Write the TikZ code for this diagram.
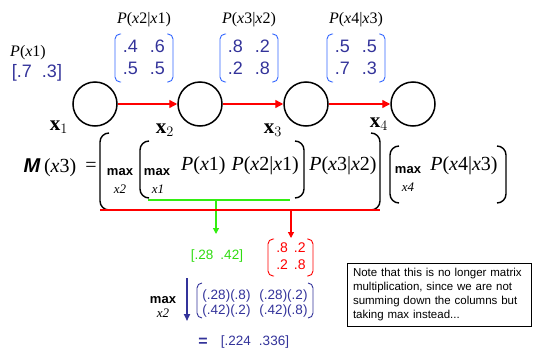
\documentclass[tikz,border=0pt]{standalone}
\usepackage{fontspec}
\setmainfont{Liberation Serif}
\setsansfont{Liberation Sans}
\usetikzlibrary{arrows.meta,calc,positioning}
\definecolor{NumPurple}{HTML}{33339A}
\definecolor{ParenBlue}{HTML}{3366FF}
\definecolor{EdgeRed}{HTML}{FF0000}
\definecolor{MsgGreen}{HTML}{33EE11}
\newcommand\prob[1]{\textit{P}(\textit{x}#1)}
\newcommand\cprob[2]{\textit{P}(\textit{x}#1|\textit{x}#2)}
% bracket pair: style, left x, right x, top y, bottom y, hook
\newcommand\parens[6]{%
  \draw[#1] ($(#2,#4)+(#6,0)$) -- (#2,#4) -- (#2,#5) -- ($(#2,#5)+(#6,0)$);
  \draw[#1] ($(#3,#4)-(#6,0)$) -- (#3,#4) -- (#3,#5) -- ($(#3,#5)-(#6,0)$);}
\tikzset{
  var/.style={circle,draw=black,line width=1.5pt,minimum size=44pt,inner sep=0pt},
  varlabel/.style={font=\fontsize{21}{21}\selectfont,inner sep=0pt},
  edge/.style={-{Triangle[length=8pt,width=8pt]},draw=EdgeRed,line width=1.4pt},
  cpt/.style={font=\fontsize{16}{16}\selectfont,inner sep=0pt},
  topvec/.style={font=\sffamily\fontsize{18}{22}\selectfont,text=NumPurple,inner sep=0pt},
  blueparen/.style={draw=ParenBlue,line width=.9pt,rounded corners=5pt},
  bigparen/.style={draw=black,line width=1.4pt,rounded corners=9pt},
  redparen/.style={draw=EdgeRed,line width=.9pt,rounded corners=5pt},
  purpleparen/.style={draw=NumPurple,line width=.9pt,rounded corners=5pt},
  eq/.style={font=\fontsize{20}{20}\selectfont,inner sep=0pt},
  maxop/.style={font=\sffamily\bfseries\fontsize{13}{13}\selectfont,inner sep=0pt},
  idx/.style={font=\itshape\fontsize{13}{13}\selectfont,inner sep=0pt},
  msg/.style={draw=MsgGreen,line width=1.4pt},
  msgarrow/.style={-{Triangle[length=6pt,width=6pt]},draw=MsgGreen,line width=1.2pt},
  redmsg/.style={draw=EdgeRed,line width=1.4pt},
  redarrow/.style={-{Triangle[length=6pt,width=6pt]},draw=EdgeRed,line width=1.2pt},
  numvec/.style={font=\sffamily\fontsize{13.5}{14.5}\selectfont,inner sep=0pt},
  downarrow/.style={-{Triangle[length=7pt,width=6pt]},draw=NumPurple,line width=1.6pt},
  note/.style={draw=black,line width=.7pt,font=\sffamily\fontsize{11.5}{14}\selectfont,
    align=left,minimum width=184pt,minimum height=63pt,text width=172pt,inner sep=5pt}
}
\begin{document}
\begin{tikzpicture}[x=1pt,y=-1pt]
  \useasboundingbox (0,0) rectangle (535,351);
  % chain x1 -> x4
  \foreach \i/\x in {1/95,2/200,3/306,4/413}{
    \node[var] (v\i) at (\x,104) {};
  }
  \foreach \i/\j in {1/2,2/3,3/4}{
    \draw[edge] (v\i) -- (v\j);
  }
  \foreach \i/\x/\y in {1/59/127,2/165/130,3/273/130,4/379/124}{
    \node[varlabel] (l\i) at (\x,\y) {$\mathbf{x}_\i$};
  }
  % prior and tables
  \node[cpt] (p1) at (28,53) {\prob{1}};
  \node[topvec] (pv) at (37,73) {[.7\hspace{10pt}.3]};
  \foreach \n/\x/\c/\p/\a/\b/\cc/\d in {t2/144/2/1/.4/.6/.5/.5,t3/249/3/2/.8/.2/.2/.8,t4/356/4/3/.5/.5/.7/.3}{
    \node[cpt] (h\n) at (\x,20) {\cprob{\c}{\p}};
    \node[topvec] (\n) at (\x,59)
      {\begin{tabular}{@{}c@{\hspace{12pt}}c@{}}\a&\b\\\cc&\d\end{tabular}};
    \parens{blueparen}{\x-29}{\x+29}{34}{82}{6}
  }
  % message equation
  \node[eq] (m3) at (50,168) {\textsf{\bfseries\itshape M}\,(\textit{x}3)};
  \node[eq] (eqs) at (91,167) {=};
  \parens{bigparen}{100}{380}{133}{210}{9}
  \node[maxop] (mx2) at (120,172) {max};
  \node[idx] (i2) at (120,189) {x2};
  \parens{bigparen}{140}{304}{141}{198}{9}
  \node[maxop] (mx1) at (157,172) {max};
  \node[idx] (i1) at (158,189) {x1};
  \node[eq] (f12) at (240,166) {\prob{1}\hspace{6pt}\cprob{2}{1}};
  \node[eq] (f23) at (343,166) {\cprob{3}{2}};
  \parens{bigparen}{390}{506}{146}{203}{9}
  \node[maxop] (mx4) at (408,170) {max};
  \node[idx] (i4) at (408,187) {x4};
  \node[eq] (f34) at (464,166) {\cprob{4}{3}};
  % green message
  \coordinate (g0) at (148,200);
  \coordinate (g1) at (290,200);
  \coordinate (gm) at (216,200);
  \coordinate (gt) at (216,234);
  \draw[msg] (g0) -- (g1);
  \draw[msgarrow] (gm) -- (gt);
  \node[numvec,text=MsgGreen!92!black] (gv) at (217,256) {[.28\hspace{7pt}.42]};
  % red table
  \coordinate (r0) at (100,210);
  \coordinate (r1) at (380,210);
  \coordinate (rm) at (291,210);
  \coordinate (rt) at (291,238);
  \draw[redmsg] (r0) -- (r1);
  \draw[redarrow] (rm) -- (rt);
  \node[numvec,text=EdgeRed,font=\sffamily\fontsize{14}{17}\selectfont] (rmat) at (291,258)
    {\begin{tabular}{@{}c@{\hspace{6pt}}c@{}}.8&.2\\.2&.8\end{tabular}};
  \parens{redparen}{268}{313}{239}{276}{6}
  % max over x2
  \node[maxop] (mx2b) at (163,300) {max};
  \node[idx] (i2b) at (163,313) {x2};
  \coordinate (ba0) at (187,278);
  \coordinate (ba1) at (187,321);
  \draw[downarrow] (ba0) -- (ba1);
  \node[numvec,text=NumPurple] (pm) at (255,304)
    {\begin{tabular}{@{}c@{\hspace{9pt}}c@{}}(.28)(.8)&(.28)(.2)\\(.42)(.2)&(.42)(.8)\end{tabular}};
  \parens{purpleparen}{197}{313}{283}{318}{5}
  \node[numvec,text=NumPurple,font=\sffamily\bfseries\fontsize{16}{16}\selectfont] (eq2) at (203,342) {=};
  \node[numvec,text=NumPurple] (res) at (255,342) {[.224\hspace{8pt}.336]};
  % note
  \node[note] (nt) at (439,294.5) {Note that this is no longer matrix\\multiplication, since we are not\\summing down the columns but\\taking max instead...};
\end{tikzpicture}
\end{document}
